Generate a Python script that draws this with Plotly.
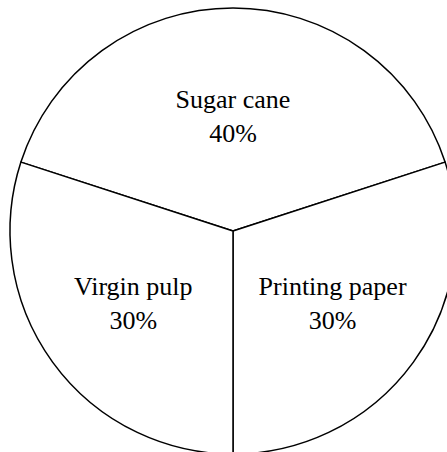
import plotly.graph_objects as go

labels = ["Sugar cane", "Printing paper", "Virgin pulp"]
values = [40, 30, 30]

W, H = 466, 462

fig = go.Figure(go.Pie(
    labels=labels,
    values=values,
    sort=False,
    direction="clockwise",
    rotation=-72,
    marker=dict(colors=["white"] * 3, line=dict(color="black", width=1.5)),
    textinfo="label+percent",
    textposition="inside",
    insidetextorientation="horizontal",
    textfont=dict(family="Liberation Serif", size=26, color="black"),
    hoverinfo="none",
    domain=dict(x=[0, 1], y=[(H - 454) / H, (H - 8) / H]),
    showlegend=False,
))

fig.update_layout(
    width=W, height=H,
    margin=dict(l=0, r=0, t=0, b=0),
    paper_bgcolor="white",
    plot_bgcolor="white",
    uniformtext=dict(minsize=26, mode="show"),
)

fig.write_html(
    "out.html",
    config={"displayModeBar": False, "responsive": False},
    post_script="document.body.style.margin='0';document.body.style.overflow='hidden';document.documentElement.style.overflow='hidden';",
)
